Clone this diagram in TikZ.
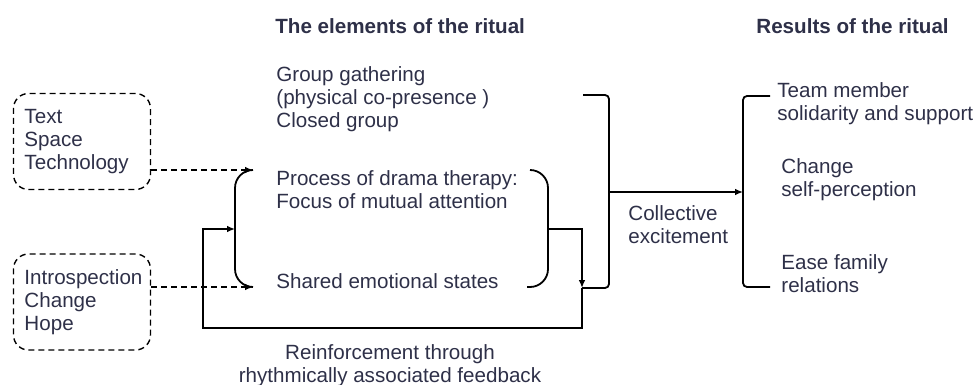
\documentclass[tikz,border=0pt]{standalone}
\usepackage{fontspec}
\setmainfont{Liberation Sans}
\usepackage{tikz}
\usetikzlibrary{arrows.meta,positioning}
\definecolor{inkblue}{RGB}{46,48,72}

\begin{document}
\begin{tikzpicture}[
                x=0.5pt, y=-0.5pt,
                font=\fontsize{10.3pt}{11.5pt}\selectfont,
                txt/.style={text=inkblue, align=left, inner sep=0pt, anchor=west},
                head/.style={text=inkblue, inner sep=0pt, anchor=west, font=\fontsize{10.3pt}{11.5pt}\selectfont\bfseries},
                dbox/.style={draw=black, dashed, dash pattern=on 3pt off 2pt, line width=0.7pt, rounded corners=7.5pt, text=inkblue, align=left, text width=57.5pt, inner xsep=5.5pt, minimum height=48pt},
                line/.style={line width=0.9pt},
                arr/.style={line width=0.9pt, -{Latex[length=4pt,width=3.4pt]}},
                darr/.style={line width=0.7pt, dash pattern=on 3pt off 2pt, -{Latex[length=4pt,width=3.4pt]}},
            ]
            \useasboundingbox (0,0) rectangle (979,385);
            % headings
            \node[head] (elem) at (275,26) {The elements of the ritual};
            \node[head] (res) at (756,26) {Results of the ritual};
            % input boxes
            \node[dbox] (tech) at (82,141.5) {Text\\Space\\Technology};
            \node[dbox] (intro) at (82,302) {Introspection\\Change\\Hope};
            % elements
            \node[txt] (gather) at (276,99) {Group gathering\\(physical co-presence )\\Closed group};
            \node[txt] (drama) at (276,189.5) {Process of drama therapy:\\Focus of mutual attention};
            \node[txt] (shared) at (276,281) {Shared emotional states};
            \node[txt] (coll) at (628,224.5) {Collective\\excitement};
            % results
            \node[txt] (team) at (777,103.5) {Team member\\solidarity and support};
            \node[txt] (self) at (781,179.5) {Change\\self-perception};
            \node[txt] (ease) at (781,274) {Ease family\\relations};
            \node[text=inkblue, align=center, inner sep=0pt] (reinf) at (390,366) {Reinforcement through\\rhythmically associated feedback};
            % bracket points
            \coordinate (inA) at (253,170);
            \coordinate (inB) at (253,287);
            \coordinate (lbr) at (235,229);
            \coordinate (rbA) at (530,170);
            \coordinate (rbB) at (527,287);
            \coordinate (rbr) at (548,229);
            \coordinate (fbr) at (582,229);
            \coordinate (bigtop) at (583,95);
            \coordinate (bigbot) at (582,288);
            \coordinate (bigmid) at (609,192);
            \coordinate (resmid) at (743,192);
            \coordinate (restop) at (770,96);
            \coordinate (resbot) at (770,287);
            % inputs
            \draw[darr] (tech.east |- inA) -- (inA);
            \draw[darr] (intro.east |- inB) -- (inB);
            % brackets
            \draw[line, rounded corners=9pt] (inA) -| (lbr) |- (inB);
            \draw[line, rounded corners=9pt] (rbA) -| (rbr) |- (rbB);
            \draw[line, rounded corners=2pt] (bigtop) -| (bigmid) |- (bigbot);
            \draw[line, rounded corners=2pt] (restop) -| (resmid) |- (resbot);
            \draw[arr] (bigmid) -- (resmid);
            % feedback loop
            \draw[arr] (rbr) -- (fbr) -- (bigbot);
            \draw[arr] (bigbot) -- (582,328) -| (203,229) -- (lbr);
        \end{tikzpicture}
\end{document}
